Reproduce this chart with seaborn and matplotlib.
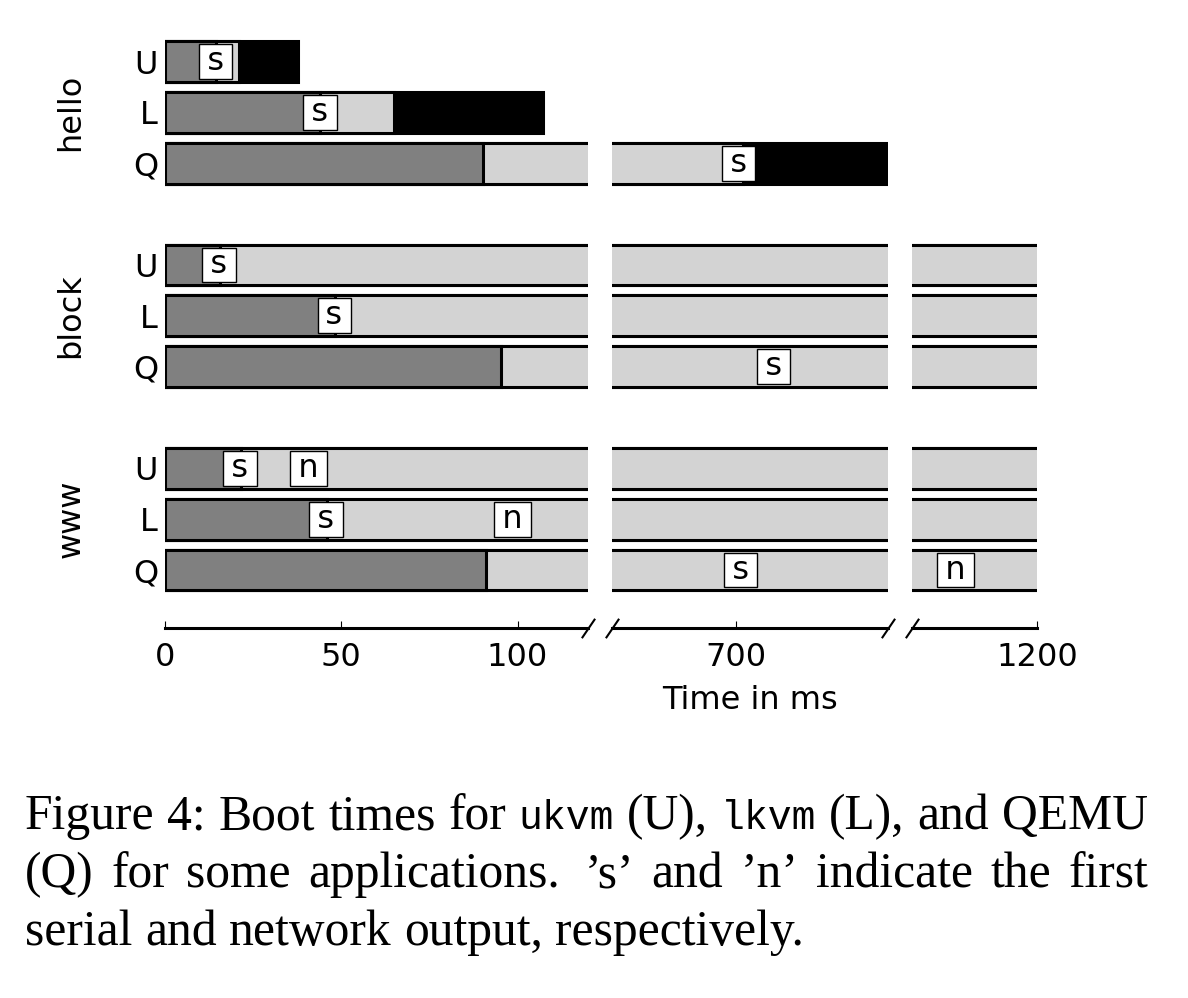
import numpy as np
import pandas as pd
import matplotlib
matplotlib.use('Agg')
import matplotlib.pyplot as plt
import matplotlib.transforms as mtransforms
import seaborn as sns

# boot time data (ms), rows: hello U/L/Q, block U/L/Q, www U/L/Q
apps = ['hello', 'block', 'www']
vms = ['U', 'L', 'Q']
boot_end = [14.6, 44.0, 90.2, 15.6, 48.3, 95.2, 21.5, 45.9, 91.1]
run_end = [21.0, 65.0, 702.0, 1300, 1300, 1300, 1300, 1300, 1300]
total = [37.7, 107.3, 800.0, 1300, 1300, 1300, 1300, 1300, 1300]
serial = [14.3, 44.0, 700.7, 15.3, 48.0, 710.7, 21.3, 45.7, 701.4]
network = [np.nan, np.nan, np.nan, np.nan, np.nan, np.nan, 40.7, 98.6, 1177.2]

# broken x axis: limits and ticks of each piece
xlims = [(0, 120), (665, 743), (1165, 1200)]
xticks = [[0, 50, 100], [700], [1200]]

df = pd.DataFrame({'app': np.repeat(apps, 3), 'vm': vms * 3,
                   'boot': boot_end, 'run': run_end, 'total': total,
                   'serial': serial, 'network': network})
df['row'] = [a * 4 + v for a in range(3) for v in range(3)]

sns.set_style('white')
plt.rcParams['font.family'] = ['DejaVu Sans']
plt.rcParams['text.color'] = 'black'
plt.rcParams['axes.labelcolor'] = 'black'
plt.rcParams['xtick.color'] = 'black'
plt.rcParams['ytick.color'] = 'black'

W, H = 1188, 998
fig = plt.figure(figsize=(W / 100, H / 100), dpi=100)

# pixel extents of the three pieces
boxes = [(165, 588), (612, 888), (912, 1037)]
axes = []
for i, (x0, x1) in enumerate(boxes):
    ax = fig.add_axes([x0 / W, 1 - 628 / H, (x1 - x0) / W, (628 - 31) / H])
    for col, c in [('total', 'black'), ('run', '#d3d3d3'), ('boot', '#808080')]:
        sns.barplot(data=df, x=col, y='row', orient='h', native_scale=True,
                    color=c, saturation=1, width=0.8, edgecolor='black',
                    linewidth=2.2, errorbar=None, ax=ax)
    lo, hi = xlims[i]
    ax.set_xlim(lo, hi)
    ax.set_ylim(11.14, -0.6)
    ax.set_xlabel('')
    ax.set_ylabel('')
    for sp in ['top', 'right', 'left']:
        ax.spines[sp].set_visible(False)
    ax.spines['bottom'].set_linewidth(2.2)
    ax.spines['bottom'].set_color('black')
    ax.set_xticks(xticks[i])
    ax.tick_params(axis='x', direction='in', length=5, width=0.8, pad=10,
                   labelsize=23, bottom=True, colors='black')
    for mark, key in [('s', 'serial'), ('n', 'network')]:
        for x, y in zip(df[key], df['row']):
            if np.isfinite(x) and lo <= x <= hi:
                ax.text(x, y, '\u2009' + mark + '\u2009', ha='center', va='center',
                        fontsize=23, zorder=5,
                        bbox=dict(boxstyle='square,pad=0.06', fc='white',
                                  ec='black', lw=1.0))
    # break marks on the axis line
    slash = dict(marker=[(-0.68, -1), (0.68, 1)], markersize=14, color='k',
                 mew=1.5, linestyle='none', clip_on=False, transform=ax.transAxes)
    if i < 2:
        ax.plot([1], [0], **slash)
    if i > 0:
        ax.plot([0], [0], **slash)
    if i == 0:
        ax.set_yticks(df['row'])
        ax.set_yticklabels(df['vm'])
        ax.tick_params(axis='y', length=0, pad=5, labelsize=23, colors='black')
        trans = mtransforms.blended_transform_factory(ax.transAxes, ax.transData)
        for a, app in enumerate(apps):
            ax.text(-0.222, a * 4 + 1, app, transform=trans, rotation=90,
                    ha='center', va='center', fontsize=23)
    else:
        ax.set_yticks([])
    axes.append(ax)

axes[1].set_xlabel('Time in ms', fontsize=23, labelpad=9)

# caption below the plot, justified like the paper
fig.canvas.draw()
renderer = fig.canvas.get_renderer()
fams = {'serif': ['Liberation Serif'], 'mono': ['Liberation Mono']}
scale = {'serif': 1.0, 'mono': 0.8}


def text_width(s, fam, size):
    t = fig.text(0, 0, s, fontsize=size * scale[fam], family=fams[fam])
    w = t.get_window_extent(renderer).width
    t.remove()
    return w


caption = [
    [('Figure', 'serif'), ('4:', 'serif'), ('Boot', 'serif'), ('times', 'serif'),
     ('for', 'serif'), ('ukvm', 'mono'), ('(U),', 'serif'), ('lkvm', 'mono'),
     ('(L),', 'serif'), ('and', 'serif'), ('QEMU', 'serif')],
    [('(Q)', 'serif'), ('for', 'serif'), ('some', 'serif'), ('applications.', 'serif'),
     ('\u2019s\u2019', 'serif'), ('and', 'serif'), ('\u2019n\u2019', 'serif'),
     ('indicate', 'serif'), ('the', 'serif'), ('first', 'serif')],
    [('serial', 'serif'), ('and', 'serif'), ('network', 'serif'),
     ('output,', 'serif'), ('respectively.', 'serif')],
]
baselines = [829, 887, 945]
left, right = 25, 1148

size0 = 40
space0 = text_width('a a', 'serif', size0) - text_width('aa', 'serif', size0)
last_w = sum(text_width(w, f, size0) for w, f in caption[2]) + 4 * space0
size = size0 * 778 / last_w
space = space0 * size / size0

for li, line in enumerate(caption):
    widths = [text_width(w, f, size) for w, f in line]
    weights = [1.4 if w.endswith('.') else 1.0 for w, f in line[:-1]]
    if li < 2:
        unit = (right - left - sum(widths)) / sum(weights)
    else:
        unit = space
    x = left
    for k, (w, f) in enumerate(line):
        fig.text(x / W, 1 - baselines[li] / H, w, fontsize=size * scale[f],
                 family=fams[f], ha='left', va='baseline')
        if k < len(weights):
            x += widths[k] + unit * weights[k]

fig.savefig('out.png', dpi=100)
